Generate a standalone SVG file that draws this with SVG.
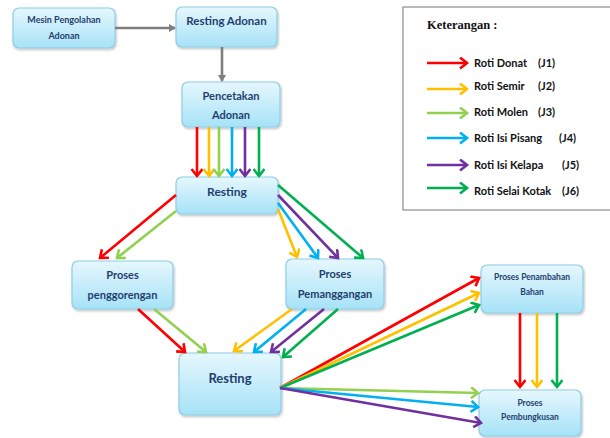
<svg xmlns="http://www.w3.org/2000/svg" width="610" height="438" viewBox="0 0 610 438">
<style>
.node rect{fill:url(#g);stroke:#8ECDE6;stroke-width:1.2}
.node text{font-family:Lato,"Open Sans","Liberation Sans",sans-serif;font-weight:bold;fill:#1F3F6E;text-anchor:middle}
.c line{stroke-width:2.6;fill:none}
.r{stroke:#FF0000}.y{stroke:#FFC000}.lg{stroke:#92D050}.b{stroke:#00B0F0}.p{stroke:#7030A0}.gr{stroke:#00B050}
.gray{stroke:#7F7F7F;stroke-width:2.6}
.leg text{font-family:Lato,"Open Sans","Liberation Sans",sans-serif;font-weight:bold;font-size:11px;fill:#111}
</style>
<defs>
<linearGradient id="g" x1="0" y1="0" x2="0" y2="1"><stop offset="0" stop-color="#E6F7FD"/><stop offset="1" stop-color="#A6E2F7"/></linearGradient>
<filter id="sh" x="-10%" y="-10%" width="130%" height="140%"><feDropShadow dx="1" dy="1.5" stdDeviation="1" flood-color="#000" flood-opacity="0.25"/></filter>
<marker id="mr" markerUnits="userSpaceOnUse" markerWidth="14" markerHeight="14" refX="9" refY="6" orient="auto"><path d="M2,0.5 L9,6 L2,11.5" fill="none" stroke="#FF0000" stroke-width="2.6"/></marker>
<marker id="my" markerUnits="userSpaceOnUse" markerWidth="14" markerHeight="14" refX="9" refY="6" orient="auto"><path d="M2,0.5 L9,6 L2,11.5" fill="none" stroke="#FFC000" stroke-width="2.6"/></marker>
<marker id="mlg" markerUnits="userSpaceOnUse" markerWidth="14" markerHeight="14" refX="9" refY="6" orient="auto"><path d="M2,0.5 L9,6 L2,11.5" fill="none" stroke="#92D050" stroke-width="2.6"/></marker>
<marker id="mb" markerUnits="userSpaceOnUse" markerWidth="14" markerHeight="14" refX="9" refY="6" orient="auto"><path d="M2,0.5 L9,6 L2,11.5" fill="none" stroke="#00B0F0" stroke-width="2.6"/></marker>
<marker id="mp" markerUnits="userSpaceOnUse" markerWidth="14" markerHeight="14" refX="9" refY="6" orient="auto"><path d="M2,0.5 L9,6 L2,11.5" fill="none" stroke="#7030A0" stroke-width="2.6"/></marker>
<marker id="mgr" markerUnits="userSpaceOnUse" markerWidth="14" markerHeight="14" refX="9" refY="6" orient="auto"><path d="M2,0.5 L9,6 L2,11.5" fill="none" stroke="#00B050" stroke-width="2.6"/></marker>
<marker id="mgray" markerUnits="userSpaceOnUse" markerWidth="10" markerHeight="10" refX="6" refY="4" orient="auto"><path d="M0,0 L7,4 L0,8 Z" fill="#7F7F7F"/></marker>
</defs>
<rect width="610" height="438" fill="#fff"/>

<g id="legend" class="leg">
<rect x="403" y="7" width="212" height="203" fill="#fff" stroke="#8C8C8C" stroke-width="1.2"/>
<text x="427" y="29" style="font-family:'Liberation Serif',serif;font-size:12.5px">Keterangan :</text>
<line x1="427" y1="63" x2="467" y2="63" class="r" stroke-width="2.6" marker-end="url(#mr)"/>
<text x="474" y="67">Roti Donat</text><text x="538" y="67">(J1)</text>
<line x1="427" y1="89" x2="467" y2="89" class="y" stroke-width="2.6" marker-end="url(#my)"/>
<text x="474" y="90">Roti Semir</text><text x="538" y="90">(J2)</text>
<line x1="427" y1="113" x2="467" y2="113" class="lg" stroke-width="2.6" marker-end="url(#mlg)"/>
<text x="474" y="116">Roti Molen</text><text x="538" y="116">(J3)</text>
<line x1="427" y1="138" x2="467" y2="138" class="b" stroke-width="2.6" marker-end="url(#mb)"/>
<text x="474" y="142">Roti Isi Pisang</text><text x="559" y="142">(J4)</text>
<line x1="427" y1="165" x2="467" y2="165" class="p" stroke-width="2.6" marker-end="url(#mp)"/>
<text x="474" y="169">Roti Isi Kelapa</text><text x="562" y="169">(J5)</text>
<line x1="427" y1="188" x2="467" y2="188" class="gr" stroke-width="2.6" marker-end="url(#mgr)"/>
<text x="474" y="195">Roti Selai Kotak</text><text x="562" y="195">(J6)</text>
</g>

<g id="n1" class="node"><rect x="13" y="8" width="102" height="40" rx="6" filter="url(#sh)"/><text x="64" y="23" font-size="9">Mesin Pengolahan</text><text x="64" y="39" font-size="9">Adonan</text></g>
<g id="n2" class="node"><rect x="176" y="7" width="101" height="40" rx="6" filter="url(#sh)"/><text x="226.5" y="25" font-size="11.5">Resting Adonan</text></g>
<g id="n3" class="node"><rect x="182" y="82" width="98" height="45" rx="6" filter="url(#sh)"/><text x="231" y="100" font-size="11">Pencetakan</text><text x="231" y="119" font-size="11">Adonan</text></g>
<g id="n4" class="node"><rect x="176" y="177" width="102" height="37" rx="6" filter="url(#sh)"/><text x="227" y="196" font-size="12">Resting</text></g>
<g id="n5" class="node"><rect x="72" y="261" width="101" height="48" rx="6" filter="url(#sh)"/><text x="122.5" y="279" font-size="11">Proses</text><text x="122.5" y="299" font-size="11">penggorengan</text></g>
<g id="n6" class="node"><rect x="286" y="259" width="98" height="50" rx="6" filter="url(#sh)"/><text x="335" y="278" font-size="11">Proses</text><text x="335" y="298" font-size="11">Pemanggangan</text></g>
<g id="n7" class="node"><rect x="179" y="353" width="102" height="62" rx="6" filter="url(#sh)"/><text x="230" y="383" font-size="13">Resting</text></g>
<g id="n8" class="node"><rect x="481" y="265" width="102" height="48" rx="6" filter="url(#sh)"/><text x="532" y="280" font-size="8.5">Proses Penambahan</text><text x="532" y="295" font-size="8.5">Bahan</text></g>
<g id="n9" class="node"><rect x="479" y="390" width="102" height="46" rx="6" filter="url(#sh)"/><text x="530" y="406" font-size="8.5">Proses</text><text x="530" y="420" font-size="8.5">Pembungkusan</text></g>

<g id="connectors" class="c">
<line x1="115" y1="28" x2="175" y2="28" class="gray" marker-end="url(#mgray)"/>
<line x1="222" y1="47" x2="222" y2="81" class="gray" marker-end="url(#mgray)"/>

<line x1="197" y1="127" x2="197" y2="176" class="r" marker-end="url(#mr)"/>
<line x1="209" y1="127" x2="209" y2="176" class="y" marker-end="url(#my)"/>
<line x1="219" y1="127" x2="219" y2="176" class="lg" marker-end="url(#mlg)"/>
<line x1="232" y1="127" x2="232" y2="176" class="b" marker-end="url(#mb)"/>
<line x1="245" y1="127" x2="245" y2="176" class="p" marker-end="url(#mp)"/>
<line x1="259" y1="127" x2="259" y2="176" class="gr" marker-end="url(#mgr)"/>

<line x1="176" y1="195" x2="100" y2="258" class="r" marker-end="url(#mr)"/>
<line x1="176" y1="211" x2="117" y2="258" class="lg" marker-end="url(#mlg)"/>
<line x1="278" y1="209" x2="297" y2="257" class="y" marker-end="url(#my)"/>
<line x1="278" y1="203" x2="318" y2="258" class="b" marker-end="url(#mb)"/>
<line x1="278" y1="195" x2="338" y2="258" class="p" marker-end="url(#mp)"/>
<line x1="278" y1="185" x2="363" y2="258" class="gr" marker-end="url(#mgr)"/>

<line x1="138" y1="309" x2="185" y2="352" class="r" marker-end="url(#mr)"/>
<line x1="154" y1="309" x2="206" y2="352" class="lg" marker-end="url(#mlg)"/>
<line x1="292" y1="309" x2="234" y2="351" class="y" marker-end="url(#my)"/>
<line x1="306" y1="309" x2="254" y2="352" class="b" marker-end="url(#mb)"/>
<line x1="324" y1="309" x2="271" y2="352" class="p" marker-end="url(#mp)"/>
<line x1="338" y1="309" x2="283" y2="357" class="gr" marker-end="url(#mgr)"/>

<line x1="280" y1="388" x2="479" y2="278" class="r" marker-end="url(#mr)"/>
<line x1="280" y1="388" x2="479" y2="293" class="y" marker-end="url(#my)"/>
<line x1="280" y1="388" x2="479" y2="305" class="gr" marker-end="url(#mgr)"/>
<line x1="280" y1="388" x2="478" y2="393" class="lg" marker-end="url(#mlg)"/>
<line x1="280" y1="388" x2="478" y2="407" class="b" marker-end="url(#mb)"/>
<line x1="280" y1="388" x2="481" y2="423" class="p" marker-end="url(#mp)"/>

<line x1="520" y1="313" x2="520" y2="387" class="r" marker-end="url(#mr)"/>
<line x1="537" y1="313" x2="537" y2="387" class="y" marker-end="url(#my)"/>
<line x1="557" y1="313" x2="557" y2="387" class="gr" marker-end="url(#mgr)"/>
</g>
</svg>
